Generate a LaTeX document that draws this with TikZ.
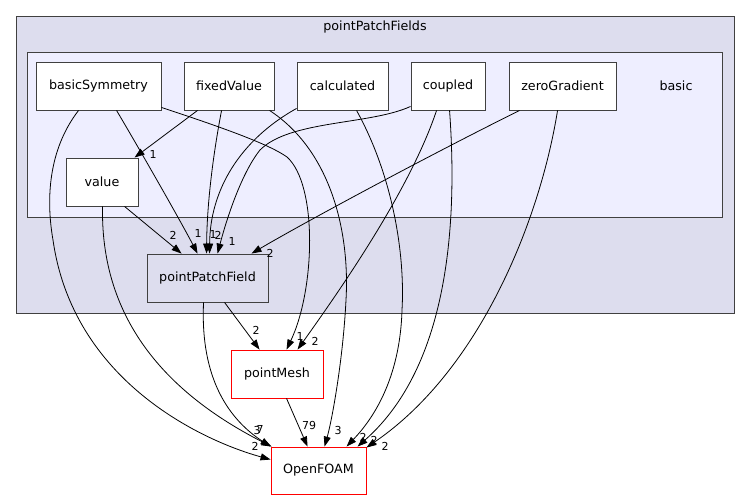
\documentclass[tikz,border=0pt]{standalone}
\usepackage{fontspec}
\setmainfont{DejaVu Sans}
\usetikzlibrary{arrows.meta,calc}
\definecolor{clusterA}{HTML}{DDDDEE}
\definecolor{clusterB}{HTML}{EEEEFF}
\definecolor{bord}{HTML}{404040}
\begin{document}
\begin{tikzpicture}[x=1pt,y=-1pt,
  dirbox/.style={draw=bord, line width=0.9pt, fill=white, minimum height=48pt, inner sep=0pt, font=\fontsize{12.7}{15}\selectfont},
  redbox/.style={dirbox, draw=red},
  cluster/.style={draw=bord, line width=0.9pt},
  dep/.style={line width=0.8pt, -{Triangle[length=10pt,width=7pt]}},
  title/.style={font=\fontsize{12.7}{15}\selectfont, inner sep=0pt},
  lbl/.style={font=\fontsize{11}{13}\selectfont, inner sep=0pt}]
\useasboundingbox (0,0) rectangle (749,500);
% clusters
\draw[cluster, fill=clusterA] (16,16) rectangle (734,313);
\node[title] (ppfTitle) at (375,27) {pointPatchFields};
\draw[cluster, fill=clusterB] (27,52) rectangle (722,217);
\node[title] (basicTitle) at (676,86) {basic};
% nodes
\node[dirbox, minimum width=125pt] (bs) at (98.5,86) {basicSymmetry};
\node[dirbox, minimum width=90pt] (fv) at (229,86) {fixedValue};
\node[dirbox, minimum width=91pt] (ca) at (342.5,86) {calculated};
\node[dirbox, minimum width=74pt] (co) at (448,86) {coupled};
\node[dirbox, minimum width=107pt] (zg) at (562.5,86) {zeroGradient};
\node[dirbox, minimum width=72pt] (va) at (102,182) {value};
\node[dirbox, fill=clusterA, minimum width=121pt] (pf) at (207.5,278) {pointPatchField};
\node[redbox, minimum width=92pt] (pm) at (277,374) {pointMesh};
\node[redbox, minimum width=95pt, minimum height=47pt] (of) at (318.5,470.5) {OpenFOAM};
% edges
% basicSymmetry
\draw[dep] ($(bs.south west)+(43,0)$) .. controls (48,150) and (46,200) .. (53,240)
  .. controls (73,380) and (200,440) .. ($(of.north west)+(0,13)$);
\draw[dep] ($(bs.south west)+(81,0)$) .. controls (140,150) and (180,220) .. ($(pf.north west)+(51,0)$);
\draw[dep] ($(bs.south east)+(0,-3)$) .. controls (230,130) and (270,145) .. (287,157)
  .. controls (318,185) and (315,290) .. ($(pm.north west)+(56,0)$);
% fixedValue
\draw[dep] ($(fv.south west)+(14,0)$) -- ($(va.north west)+(69,0)$);
\draw[dep] ($(fv.south west)+(38,0)$) .. controls (214,150) and (207,200) .. ($(pf.north west)+(60,0)$);
\draw[dep] ($(fv.south west)+(86,0)$) .. controls (330,150) and (350,230) .. (346,300)
  .. controls (343,360) and (332,420) .. ($(of.north west)+(54,0)$);
% calculated
\draw[dep] ($(ca.south west)+(0,-2)$) .. controls (240,140) and (210,190) .. ($(pf.north west)+(63,0)$);
\draw[dep] ($(ca.south west)+(60,0)$) .. controls (395,180) and (405,260) .. (402,310)
  .. controls (400,380) and (372,420) .. ($(of.north west)+(76,0)$);
% coupled
\draw[dep] ($(co.south west)+(0,-4)$) .. controls (370,125) and (290,120) .. (260,150)
  .. controls (240,175) and (225,225) .. ($(pf.north west)+(71,0)$);
\draw[dep] ($(co.south west)+(26,0)$) .. controls (410,190) and (340,290) .. ($(pm.north west)+(67,0)$);
\draw[dep] ($(co.south west)+(39,0)$) .. controls (456,200) and (456,360) .. ($(of.north west)+(87,0)$);
% zeroGradient
\draw[dep] ($(zg.south west)+(11,0)$) .. controls (420,160) and (300,225) .. ($(pf.north west)+(105,0)$);
\draw[dep] ($(zg.south west)+(49,0)$) .. controls (540,220) and (480,370) .. ($(of.north east)+(0,1)$);
% value
\draw[dep] ($(va.south west)+(59,0)$) -- ($(pf.north west)+(35,0)$);
\draw[dep] ($(va.south west)+(37,0)$) .. controls (100,330) and (180,400) .. ($(of.north west)+(1,0)$);
% pointPatchField
\draw[dep] ($(pf.south west)+(78,0)$) -- ($(pm.north west)+(29,0)$);
\draw[dep] ($(pf.south west)+(57,0)$) .. controls (200,380) and (230,420) .. (of.north west);
% pointMesh
\draw[dep] ($(pm.south west)+(56,0)$) -- ($(of.north west)+(37,0)$);
% labels
\node[lbl] (l1) at (255,446) {2};
\node[lbl] (l2) at (257,430) {3};
\node[lbl] (l3) at (260,429) {7};
\node[lbl] (l4) at (309,425) {79};
\node[lbl] (l5) at (338,430) {3};
\node[lbl] (l6) at (363,437) {2};
\node[lbl] (l7) at (374,440) {2};
\node[lbl] (l8) at (385,446) {2};
\node[lbl] (l9) at (300,336) {1};
\node[lbl] (l10) at (315,341) {2};
\node[lbl] (l11) at (256,330) {2};
\node[lbl] (l12) at (153,154) {1};
\node[lbl] (l13) at (173,235) {2};
\node[lbl] (l14) at (198,233) {1};
\node[lbl] (l15) at (213,234) {1};
\node[lbl] (l16) at (218,235) {2};
\node[lbl] (l17) at (232,241) {1};
\node[lbl] (l18) at (270,253) {2};
\end{tikzpicture}
\end{document}
